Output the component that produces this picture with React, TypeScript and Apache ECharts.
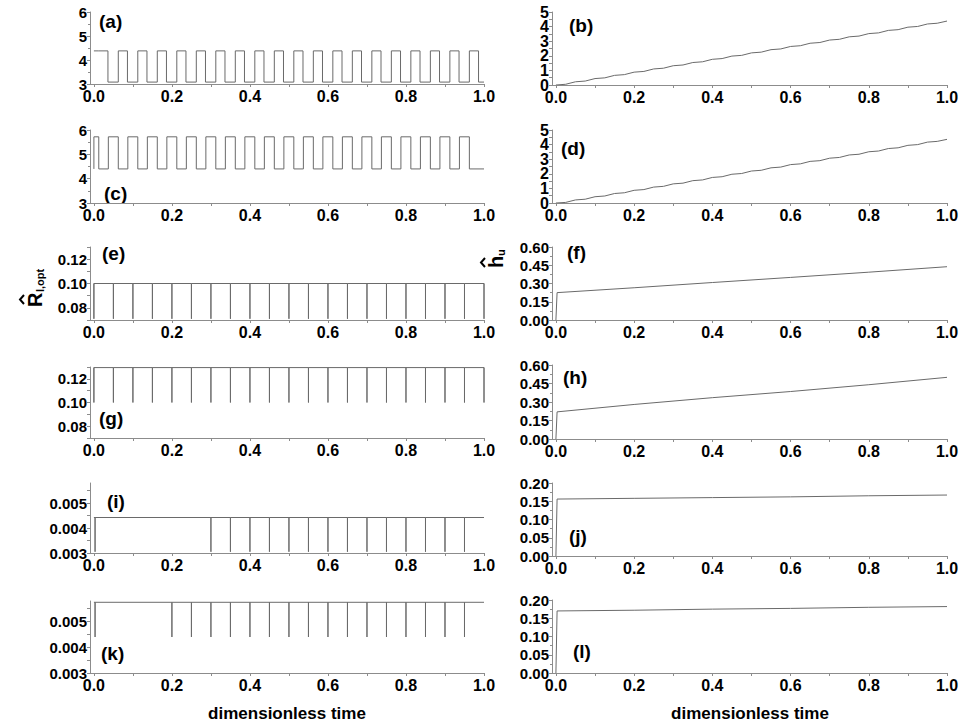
import React, { useEffect, useRef } from "react";
import * as echarts from "echarts";

// ---------- data ----------
const xLabelValues = [0, 0.2, 0.4, 0.6, 0.8, 1.0];
const xTickValues = [0, 0.1, 0.2, 0.3, 0.4, 0.5, 0.6, 0.7, 0.8, 0.9, 1.0];
const bdLabelsEven = [0, 2, 4];
const bdLabelsOdd = [1, 3, 5];

// (a) square wave
const aHigh = 4.38;
const aLow = 3.08;
const aRise = [0.0125, 0.0625, 0.1125, 0.1625, 0.2125, 0.2625, 0.3125, 0.3625, 0.4125, 0.4625, 0.5125, 0.5625, 0.6125, 0.6625, 0.7125, 0.7625, 0.8125, 0.8625, 0.9125, 0.9625];
const aFall = [0.036, 0.086, 0.136, 0.186, 0.236, 0.286, 0.336, 0.386, 0.436, 0.486, 0.536, 0.586, 0.636, 0.686, 0.736, 0.786, 0.836, 0.886, 0.936, 0.986];

// (c) square wave
const cHigh = 5.72;
const cLow = 4.4;
const cRise = [0.0, 0.037, 0.087, 0.137, 0.187, 0.237, 0.287, 0.337, 0.387, 0.437, 0.487, 0.537, 0.587, 0.637, 0.687, 0.737, 0.787, 0.837, 0.887, 0.937];
const cFall = [0.0125, 0.0625, 0.1125, 0.1625, 0.2125, 0.2625, 0.3125, 0.3625, 0.4125, 0.4625, 0.5125, 0.5625, 0.6125, 0.6625, 0.7125, 0.7625, 0.8125, 0.8625, 0.9125, 0.9625];

// (b), (d) cumulative curves
const cumX = [0, 0.025, 0.05, 0.075, 0.1, 0.125, 0.15, 0.175, 0.2, 0.225, 0.25, 0.275, 0.3, 0.325, 0.35, 0.375, 0.4, 0.425, 0.45, 0.475, 0.5, 0.525, 0.55, 0.575, 0.6, 0.625, 0.65, 0.675, 0.7, 0.725, 0.75, 0.775, 0.8, 0.825, 0.85, 0.875, 0.9, 0.925, 0.95, 0.975, 1.0];
const bValues = [0, 0.05, 0.22, 0.27, 0.44, 0.49, 0.66, 0.71, 0.88, 0.93, 1.10, 1.15, 1.32, 1.37, 1.54, 1.59, 1.76, 1.81, 1.98, 2.03, 2.20, 2.25, 2.42, 2.47, 2.64, 2.69, 2.86, 2.91, 3.08, 3.13, 3.30, 3.35, 3.52, 3.57, 3.74, 3.79, 3.96, 4.01, 4.18, 4.23, 4.38];
const dValues = [0, 0.04, 0.21, 0.26, 0.43, 0.48, 0.65, 0.70, 0.87, 0.92, 1.09, 1.14, 1.31, 1.36, 1.53, 1.58, 1.75, 1.80, 1.97, 2.02, 2.19, 2.24, 2.41, 2.46, 2.63, 2.68, 2.85, 2.90, 3.07, 3.12, 3.29, 3.34, 3.51, 3.56, 3.73, 3.78, 3.95, 4.00, 4.17, 4.22, 4.36];

// (e), (g) spikes
const eBase = 0.1;
const eLow = 0.071;
const eSpikes = [0.0, 0.05, 0.1, 0.15, 0.2, 0.25, 0.3, 0.35, 0.4, 0.45, 0.5, 0.55, 0.6, 0.65, 0.7, 0.75, 0.8, 0.85, 0.9, 0.95, 1.0];
const gBase = 0.1295;
const gLow = 0.1;
const gSpikes = [0.0, 0.05, 0.1, 0.15, 0.2, 0.25, 0.3, 0.35, 0.4, 0.45, 0.5, 0.55, 0.6, 0.65, 0.7, 0.75, 0.8, 0.85, 0.9, 0.95, 1.0];

// (i), (k) spikes
const iBase = 0.00442;
const iLow = 0.00305;
const iSpikes = [0.003, 0.3, 0.35, 0.4, 0.45, 0.5, 0.55, 0.6, 0.65, 0.7, 0.75, 0.8, 0.85, 0.9, 0.95];
const kBase = 0.00575;
const kLow = 0.0044;
const kSpikes = [0.003, 0.2, 0.25, 0.3, 0.35, 0.4, 0.45, 0.5, 0.55, 0.6, 0.65, 0.7, 0.75, 0.8, 0.85, 0.9, 0.95];

// (f), (h), (j), (l) curves
const curveX = [0, 0.003, 0.2, 0.4, 0.6, 0.8, 1.0];
const fValues = [0, 0.225, 0.265, 0.308, 0.35, 0.393, 0.438];
const hValues = [0, 0.22, 0.28, 0.335, 0.385, 0.44, 0.5];
const jValues = [0, 0.156, 0.158, 0.160, 0.162, 0.165, 0.167];
const lValues = [0, 0.17, 0.172, 0.175, 0.177, 0.18, 0.182];

// ---------- builders ----------
function squareWave(startHigh: boolean, rises: number[], falls: number[], hi: number, lo: number) {
  const ev: { t: number; up: boolean }[] = [];
  rises.forEach((t) => ev.push({ t, up: true }));
  falls.forEach((t) => ev.push({ t, up: false }));
  ev.sort((p, q) => p.t - q.t);
  let level = startHigh ? hi : lo;
  const pts: number[][] = [[0, level]];
  ev.forEach((e) => {
    pts.push([e.t, level]);
    level = e.up ? hi : lo;
    pts.push([e.t, level]);
  });
  pts.push([1, level]);
  return pts;
}

function spikes(times: number[], base: number, low: number) {
  const pts: number[][] = [[0, base]];
  times.forEach((t) => {
    pts.push([t, base], [t, low], [t, base]);
  });
  pts.push([1, base]);
  return pts;
}

function zip(xs: number[], ys: number[]) {
  return xs.map((x, i) => [x, ys[i]]);
}

const FONT = "'Liberation Sans', Arial, sans-serif";
const LINE = "#6a6a6a";
const AXIS = "#8c8c8c";

export default function App() {
  const ref = useRef<HTMLDivElement>(null);
  useEffect(() => {
    document.body.style.margin = "0";
    const chart = echarts.init(ref.current!, undefined, { renderer: "svg" });

    const L = { left: 90, width: 394 };
    const R = { left: 552, width: 395 };
    const panels: any[] = [
      { col: L, top: 12, h: 72, ymin: 3, ymax: 6, interval: 1, dec: 0, data: squareWave(true, aRise, aFall, aHigh, aLow) },
      { col: R, top: 12, h: 73, ymin: 0, ymax: 5, labels: bdLabelsEven, odd: bdLabelsOdd, ticks: [0, 0.5, 1, 1.5, 2, 2.5, 3, 3.5, 4, 4.5, 5], dec: 0, fs: 16, data: zip(cumX, bValues) },
      { col: L, top: 130, h: 73, ymin: 3, ymax: 6, interval: 1, dec: 0, data: squareWave(false, cRise, cFall, cHigh, cLow) },
      { col: R, top: 130, h: 73, ymin: 0, ymax: 5, labels: bdLabelsEven, odd: bdLabelsOdd, ticks: [0, 0.5, 1, 1.5, 2, 2.5, 3, 3.5, 4, 4.5, 5], dec: 0, fs: 16, data: zip(cumX, dValues) },
      { col: L, top: 247, h: 73, ymin: 0.07, ymax: 0.13, labels: [0.08, 0.1, 0.12], ticks: [0.07, 0.08, 0.09, 0.1, 0.11, 0.12, 0.13], dec: 2, data: spikes(eSpikes, eBase, eLow) },
      { col: R, top: 247, h: 73, ymin: 0, ymax: 0.6, interval: 0.15, dec: 2, data: zip(curveX, fValues) },
      { col: L, top: 367, h: 71, ymin: 0.07, ymax: 0.13, labels: [0.08, 0.1, 0.12], ticks: [0.07, 0.08, 0.09, 0.1, 0.11, 0.12, 0.13], dec: 2, data: spikes(gSpikes, gBase, gLow) },
      { col: R, top: 365, h: 74, ymin: 0, ymax: 0.6, interval: 0.15, dec: 2, data: zip(curveX, hValues) },
      { col: L, top: 483, h: 70, ymin: 0.003, ymax: 0.0058, labels: [0.003, 0.004, 0.005], ticks: [0.003, 0.0035, 0.004, 0.0045, 0.005, 0.0055], dec: 3, data: spikes(iSpikes, iBase, iLow) },
      { col: R, top: 483, h: 73, ymin: 0, ymax: 0.2, interval: 0.05, dec: 2, data: zip(curveX, jValues) },
      { col: L, top: 601, h: 72, ymin: 0.003, ymax: 0.0058, labels: [0.003, 0.004, 0.005], ticks: [0.003, 0.0035, 0.004, 0.0045, 0.005, 0.0055], dec: 3, data: spikes(kSpikes, kBase, kLow) },
      { col: R, top: 600, h: 73, ymin: 0, ymax: 0.2, interval: 0.05, dec: 2, data: zip(curveX, lValues) },
    ];

    const labelStyle = { color: "#000", fontFamily: FONT, fontWeight: "bold" as const, fontSize: 15 };

    const grid = panels.map((p) => ({ left: p.col.left, top: p.top, width: p.col.width, height: p.h, containLabel: false }));
    const xAxis = panels.map((p, i) => ({
      type: "value",
      gridIndex: i,
      min: -0.01,
      max: 1.0,
      axisLine: { show: true, onZero: false, lineStyle: { color: AXIS, width: 1 } },
      axisTick: { show: true, length: 3, customValues: xTickValues, lineStyle: { color: AXIS } },
      axisLabel: { ...labelStyle, fontSize: 16, margin: 4, showMinLabel: true, showMaxLabel: true, hideOverlap: false, customValues: xLabelValues, formatter: (v: number) => v.toFixed(1) },
      splitLine: { show: false },
    }));
    const yAxis: any[] = panels.map((p, i) => {
      const base: any = {
        type: "value",
        gridIndex: i,
        min: p.ymin,
        max: p.ymax,
        axisLine: { show: true, onZero: false, lineStyle: { color: AXIS, width: 1 } },
        splitLine: { show: false },
      };
      const ls = { ...labelStyle, fontSize: p.fs || 15, margin: 3, showMinLabel: true, showMaxLabel: true, hideOverlap: false };
      if (p.labels) {
        base.axisTick = { show: true, length: 3, customValues: p.ticks, lineStyle: { color: AXIS } };
        base.axisLabel = { ...ls, customValues: p.labels, formatter: (v: number) => v.toFixed(p.dec) };
      } else {
        base.interval = p.interval;
        base.axisTick = { show: true, length: 3, lineStyle: { color: AXIS } };
        base.minorTick = { show: true, splitNumber: 2, length: 2, lineStyle: { color: AXIS } };
        base.axisLabel = { ...ls, formatter: (v: number) => v.toFixed(p.dec) };
      }
      return base;
    });
    // second label axis for densely labelled panels (b), (d)
    panels.forEach((p, i) => {
      if (!p.odd) return;
      yAxis.push({
        type: "value",
        gridIndex: i,
        min: p.ymin,
        max: p.ymax,
        position: "left",
        axisLine: { show: false },
        axisTick: { show: false },
        splitLine: { show: false },
        axisLabel: { ...labelStyle, fontSize: p.fs || 15, margin: 3, showMinLabel: true, showMaxLabel: true, hideOverlap: false, customValues: p.odd, formatter: (v: number) => v.toFixed(p.dec) },
      });
    });
    const series = panels.map((p, i) => ({
      type: "line",
      xAxisIndex: i,
      yAxisIndex: i,
      data: p.data,
      showSymbol: false,
      symbol: "none",
      lineStyle: { color: LINE, width: 1 },
      silent: true,
    }));

    const panelLabels = [
      ["(a)", 99, 21], ["(b)", 569, 25], ["(c)", 104, 193], ["(d)", 561, 148],
      ["(e)", 102, 253], ["(f)", 567, 252], ["(g)", 99, 418], ["(h)", 563, 377],
      ["(i)", 107, 501], ["(j)", 569, 536], ["(k)", 101, 653], ["(l)", 573, 651],
    ];
    const txt = (s: string, x: number, y: number, size: number, align = "left") => ({
      type: "text",
      x,
      y,
      style: { text: s, fill: "#000", font: `bold ${size}px ${FONT}`, textAlign: align, textVerticalAlign: "middle" },
    });

    const graphic: any[] = panelLabels.map(([s, x, y]) => txt(s as string, x as number, y as number, 19));
    graphic.push(txt("dimensionless time", 287, 713, 17, "center"));
    graphic.push(txt("dimensionless time", 750, 713, 17, "center"));
    // y title R̂_{l,opt}
    graphic.push({
      type: "group",
      x: 35,
      y: 307,
      rotation: Math.PI / 2,
      children: [
        { type: "text", x: 0, y: 0, style: { text: "R", fill: "#000", font: `bold 20px ${FONT}`, textAlign: "left", textVerticalAlign: "middle" } },
        { type: "polyline", shape: { points: [[3, -11], [7.5, -15], [12, -11]] }, style: { stroke: "#000", lineWidth: 2, fill: "none" } },
        { type: "text", x: 15, y: 5, style: { text: "l,opt", fill: "#000", font: `bold 11px ${FONT}`, textAlign: "left", textVerticalAlign: "middle" } },
      ],
    });
    // y title ĥ_u
    graphic.push({
      type: "group",
      x: 496,
      y: 268,
      rotation: Math.PI / 2,
      children: [
        { type: "text", x: 0, y: 0, style: { text: "h", fill: "#000", font: `bold 20px ${FONT}`, textAlign: "left", textVerticalAlign: "middle" } },
        { type: "polyline", shape: { points: [[1, -11], [5.5, -15], [10, -11]] }, style: { stroke: "#000", lineWidth: 2, fill: "none" } },
        { type: "text", x: 12, y: 5, style: { text: "u", fill: "#000", font: `bold 11px ${FONT}`, textAlign: "left", textVerticalAlign: "middle" } },
      ],
    });

    chart.setOption({ animation: false, grid, xAxis, yAxis, series, graphic });
    return () => chart.dispose();
  }, []);
  return <div ref={ref} style={{ position: "absolute", left: 0, top: 0, width: 963, height: 725 }} />;
}
